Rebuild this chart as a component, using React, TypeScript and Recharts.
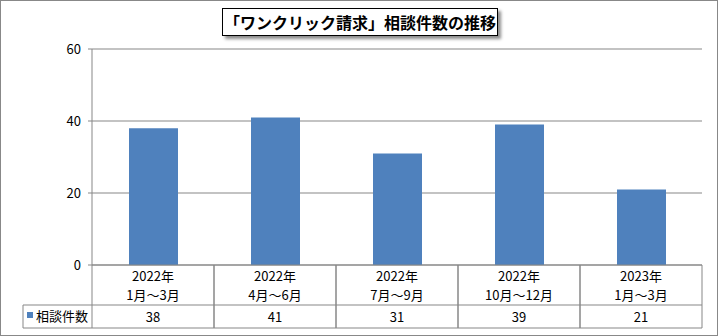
import React from "react";
import { BarChart, Bar, XAxis, YAxis, CartesianGrid } from "recharts";

const TITLE = "「ワンクリック請求」相談件数の推移";
const SERIES_NAME = "相談件数";
const YEARS = ["2022年", "2022年", "2022年", "2022年", "2023年"];
const PERIODS = ["1月～3月", "4月～6月", "7月～9月", "10月～12月", "1月～3月"];
const COUNTS = [38, 41, 31, 39, 21];
const Y_TICKS = [0, 20, 40, 60];

const data = COUNTS.map((v, i) => ({ key: `c${i}`, year: YEARS[i], period: PERIODS[i], count: v }));

const W = 718;
const H = 336;
const MARGIN = { top: 49, right: 16, bottom: 8, left: 32 };
const Y_AXIS_W = 60;
const X_AXIS_H = 63;
const PLOT_W = W - MARGIN.left - MARGIN.right - Y_AXIS_W;
const CELL_W = PLOT_W / COUNTS.length;
const LABEL_ROW_H = 40;
const LEGEND_LEFT = 23;

const FONT = '"Noto Sans CJK JP", "Noto Sans", sans-serif';
const GRID = "#878787";
const BAR = "#4F81BD";

function TableTick(props: any) {
  const { x, y, payload } = props;
  const d = data[payload.index];
  const left = x - CELL_W / 2;
  const right = x + CELL_W / 2;
  const rowY = y + LABEL_ROW_H;
  const bottom = y + X_AXIS_H;
  return (
    <g>
      <line x1={left} y1={y} x2={left} y2={bottom} stroke={GRID} />
      <line x1={right} y1={y} x2={right} y2={bottom} stroke={GRID} />
      <line x1={left} y1={rowY} x2={right} y2={rowY} stroke={GRID} />
      <line x1={left} y1={bottom} x2={right} y2={bottom} stroke={GRID} />
      <text x={x} y={y + 16} textAnchor="middle" fontSize={13} fill="#000" fontFamily={FONT}>
        {d.year}
      </text>
      <text x={x} y={y + 35} textAnchor="middle" fontSize={13} fill="#000" fontFamily={FONT}>
        {d.period}
      </text>
      <text x={x} y={rowY + 17} textAnchor="middle" fontSize={13} fill="#000" fontFamily={FONT}>
        {d.count}
      </text>
      {payload.index === 0 && (
        <g>
          <line x1={LEGEND_LEFT} y1={rowY} x2={left} y2={rowY} stroke={GRID} />
          <line x1={LEGEND_LEFT} y1={bottom} x2={left} y2={bottom} stroke={GRID} />
          <line x1={LEGEND_LEFT} y1={rowY} x2={LEGEND_LEFT} y2={bottom} stroke={GRID} />
          <rect x={LEGEND_LEFT + 4} y={rowY + 7} width={6} height={6} fill={BAR} />
          <text x={LEGEND_LEFT + 13} y={rowY + 16} fontSize={13} fill="#000" fontFamily={FONT}>
            {SERIES_NAME}
          </text>
        </g>
      )}
    </g>
  );
}

export default function App() {
  return (
    <div
      style={{
        position: "absolute",
        left: 0,
        top: 0,
        width: W,
        height: H,
        boxSizing: "border-box",
        border: "1px solid #888",
        background: "#fff",
      }}
    >
      <div style={{ position: "absolute", left: -1, top: -1 }}>
        <BarChart width={W} height={H} data={data} margin={MARGIN}>
          <CartesianGrid vertical={false} stroke={GRID} />
          <XAxis
            dataKey="key"
            height={X_AXIS_H}
            tickSize={0}
            tickMargin={0}
            axisLine={{ stroke: GRID }}
            tickLine={false}
            tick={<TableTick />}
            interval={0}
          />
          <YAxis
            width={Y_AXIS_W}
            domain={[0, 60]}
            ticks={Y_TICKS}
            tickSize={4}
            tickMargin={7}
            axisLine={{ stroke: GRID }}
            tickLine={{ stroke: GRID }}
            tick={{ fill: "#000", fontSize: 13, fontFamily: FONT }}
          />
          <Bar dataKey="count" fill={BAR} barSize={49} isAnimationActive={false} />
        </BarChart>
      </div>
      <div
        style={{
          position: "absolute",
          left: 221,
          top: 7,
          width: 276,
          height: 28,
          boxSizing: "border-box",
          border: "1px solid #000",
          background: "#fff",
          boxShadow: "3px 3px 3px rgba(0,0,0,0.45)",
          fontFamily: FONT,
          fontWeight: "bold",
          fontSize: 16,
          lineHeight: "26px",
          textAlign: "center",
          color: "#000",
          whiteSpace: "nowrap",
        }}
      >
        {TITLE}
      </div>
    </div>
  );
}
